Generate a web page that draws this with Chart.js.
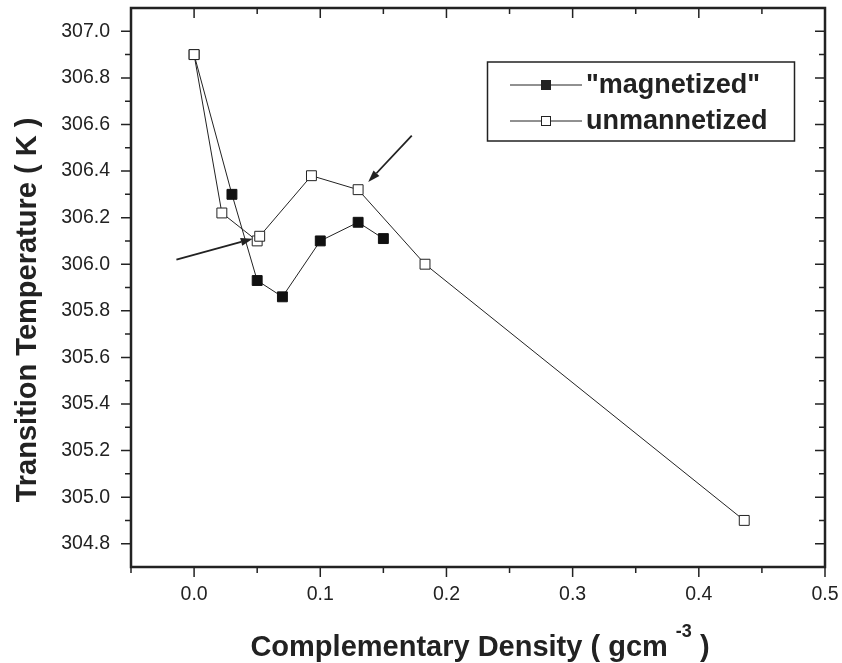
<!DOCTYPE html>
<html lang="en">
<head>
    <meta charset="UTF-8">
    <title>Transition Temperature</title>
    <script src="https://cdn.jsdelivr.net/npm/chart.js"></script>
    <style>
        body { margin: 0; background: #fff; }
    </style>
</head>
<body>
<canvas id="myChart" width="842" height="663"></canvas>

<script>
    // data
    const magX = [0.000, 0.030, 0.050, 0.070, 0.100, 0.130, 0.150];
    const magY = [306.90, 306.30, 305.93, 305.86, 306.10, 306.18, 306.11];
    const unmagX = [0.000, 0.022, 0.050, 0.052, 0.093, 0.130, 0.183, 0.436];
    const unmagY = [306.90, 306.22, 306.10, 306.12, 306.38, 306.32, 306.00, 304.90];

    const xTicks = [0.0, 0.1, 0.2, 0.3, 0.4, 0.5];
    const xMinor = [-0.05, 0.05, 0.15, 0.25, 0.35, 0.45];
    const yTicks = [304.8, 305.0, 305.2, 305.4, 305.6, 305.8, 306.0, 306.2, 306.4, 306.6, 306.8, 307.0];
    const yMinor = [304.9, 305.1, 305.3, 305.5, 305.7, 305.9, 306.1, 306.3, 306.5, 306.7, 306.9];

    // annotation arrows (data units): start -> tip
    const arrowFrom = [[-0.014, 306.02], [0.1725, 306.552]];
    const arrowTo = [[0.0465, 306.109], [0.138, 306.353]];

    const FONT = '"Liberation Sans", Arial, Helvetica, sans-serif';
    const INK = '#222';

    function toPoints(xs, ys) {
        return xs.map((x, i) => ({ x: x, y: ys[i] }));
    }

    // frame, ticks, arrows, legend, axis titles
    const decor = {
        id: 'decor',
        afterDatasetsDraw(chart) {
            const ctx = chart.ctx;
            const a = chart.chartArea;
            const sx = chart.scales.x, sy = chart.scales.y;
            ctx.save();
            ctx.strokeStyle = INK;
            ctx.lineWidth = 1.5;
            ctx.beginPath();
            xTicks.forEach(v => {
                const p = sx.getPixelForValue(v);
                ctx.moveTo(p, a.bottom); ctx.lineTo(p, a.bottom + 10);
                ctx.moveTo(p, a.top); ctx.lineTo(p, a.top + 10);
            });
            xMinor.forEach(v => {
                const p = sx.getPixelForValue(v);
                ctx.moveTo(p, a.bottom); ctx.lineTo(p, a.bottom + 6);
                ctx.moveTo(p, a.top); ctx.lineTo(p, a.top + 6);
            });
            yTicks.forEach(v => {
                const p = sy.getPixelForValue(v);
                ctx.moveTo(a.left - 10, p); ctx.lineTo(a.left, p);
                ctx.moveTo(a.right - 10, p); ctx.lineTo(a.right, p);
            });
            yMinor.forEach(v => {
                const p = sy.getPixelForValue(v);
                ctx.moveTo(a.left - 6, p); ctx.lineTo(a.left, p);
                ctx.moveTo(a.right - 6, p); ctx.lineTo(a.right, p);
            });
            ctx.stroke();

            ctx.lineWidth = 2.5;
            ctx.strokeRect(a.left, a.top, a.right - a.left, a.bottom - a.top);

            // arrows
            ctx.lineWidth = 1.8;
            ctx.fillStyle = INK;
            for (let i = 0; i < arrowFrom.length; i++) {
                const x1 = sx.getPixelForValue(arrowFrom[i][0]), y1 = sy.getPixelForValue(arrowFrom[i][1]);
                const x2 = sx.getPixelForValue(arrowTo[i][0]), y2 = sy.getPixelForValue(arrowTo[i][1]);
                const ang = Math.atan2(y2 - y1, x2 - x1);
                const hl = 12, hw = 4;
                const bx = x2 - hl * Math.cos(ang), by = y2 - hl * Math.sin(ang);
                ctx.beginPath();
                ctx.moveTo(x1, y1); ctx.lineTo(bx, by);
                ctx.stroke();
                ctx.beginPath();
                ctx.moveTo(x2, y2);
                ctx.lineTo(bx + hw * Math.sin(ang), by - hw * Math.cos(ang));
                ctx.lineTo(bx - hw * Math.sin(ang), by + hw * Math.cos(ang));
                ctx.closePath();
                ctx.fill();
            }

            // legend box
            ctx.lineWidth = 1.5;
            ctx.strokeRect(487.5, 62, 307, 79);
            const rows = [
                { label: '"magnetized"', fill: INK, y: 85 },
                { label: 'unmannetized', fill: '#fff', y: 121 }
            ];
            rows.forEach(r => {
                ctx.lineWidth = 1;
                ctx.beginPath();
                ctx.moveTo(510, r.y); ctx.lineTo(582, r.y);
                ctx.stroke();
                ctx.fillStyle = r.fill;
                ctx.fillRect(541, r.y - 5, 10, 10);
                ctx.strokeRect(541.5, r.y - 4.5, 9, 9);
                ctx.fillStyle = INK;
                ctx.font = 'bold 27px ' + FONT;
                ctx.textAlign = 'left';
                ctx.textBaseline = 'middle';
                ctx.fillText(r.label, 586, r.y + 1);
            });

            // y title
            ctx.save();
            ctx.translate(36, 310);
            ctx.rotate(-Math.PI / 2);
            ctx.font = 'bold 29px ' + FONT;
            ctx.textAlign = 'center';
            ctx.textBaseline = 'alphabetic';
            ctx.fillText('Transition Temperature ( K )', 0, 0);
            ctx.restore();

            // x title with superscript
            const p1 = 'Complementary Density ( gcm ';
            const sup = '-3';
            const p3 = ' )';
            ctx.textBaseline = 'alphabetic';
            ctx.textAlign = 'left';
            ctx.font = 'bold 29px ' + FONT;
            const w1 = ctx.measureText(p1).width, w3 = ctx.measureText(p3).width;
            ctx.font = 'bold 18px ' + FONT;
            const w2 = ctx.measureText(sup).width;
            let x0 = 480 - (w1 + w2 + w3) / 2;
            ctx.font = 'bold 29px ' + FONT;
            ctx.fillText(p1, x0, 656);
            ctx.font = 'bold 18px ' + FONT;
            ctx.fillText(sup, x0 + w1, 637);
            ctx.font = 'bold 29px ' + FONT;
            ctx.fillText(p3, x0 + w1 + w2, 656);
            ctx.restore();
        }
    };

    const ctx = document.getElementById('myChart').getContext('2d');
    const myChart = new Chart(ctx, {
        type: 'scatter',
        data: {
            datasets: [{
                label: 'unmannetized',
                data: toPoints(unmagX, unmagY),
                showLine: true,
                borderColor: INK,
                borderWidth: 1,
                pointStyle: 'rect',
                pointRadius: 7,
                pointBackgroundColor: '#fff',
                pointBorderColor: INK,
                pointBorderWidth: 1,
                order: 0
            },
            {
                label: '"magnetized"',
                data: toPoints(magX, magY),
                showLine: true,
                borderColor: INK,
                borderWidth: 1,
                pointStyle: 'rect',
                pointRadius: 7,
                pointBackgroundColor: '#111',
                pointBorderColor: '#111',
                pointBorderWidth: 1,
                order: 1
            }]
        },
        options: {
            responsive: false,
            animation: false,
            layout: { padding: { top: 4, right: 17, left: 0, bottom: 0 } },
            plugins: {
                legend: { display: false },
                tooltip: { enabled: false }
            },
            scales: {
                x: {
                    type: 'linear',
                    min: -0.05,
                    max: 0.5,
                    afterBuildTicks: s => { s.ticks = xTicks.map(v => ({ value: v })); },
                    afterFit: s => { s.height = 96; s.paddingLeft = 0; s.paddingRight = 0; },
                    grid: { display: false, drawTicks: false },
                    border: { display: false },
                    ticks: {
                        callback: v => v.toFixed(1),
                        font: { size: 19.5, family: FONT },
                        color: INK,
                        padding: 16,
                        maxRotation: 0,
                        autoSkip: false
                    }
                },
                y: {
                    min: 304.7,
                    max: 307.1,
                    afterBuildTicks: s => { s.ticks = yTicks.map(v => ({ value: v })); },
                    afterFit: s => { s.width = 131; s.paddingTop = 0; s.paddingBottom = 0; },
                    grid: { display: false, drawTicks: false },
                    border: { display: false },
                    ticks: {
                        callback: v => v.toFixed(1),
                        font: { size: 19.5, family: FONT },
                        color: INK,
                        padding: 21,
                        autoSkip: false
                    }
                }
            }
        },
        plugins: [decor]
    });
</script>
</body>
</html>
